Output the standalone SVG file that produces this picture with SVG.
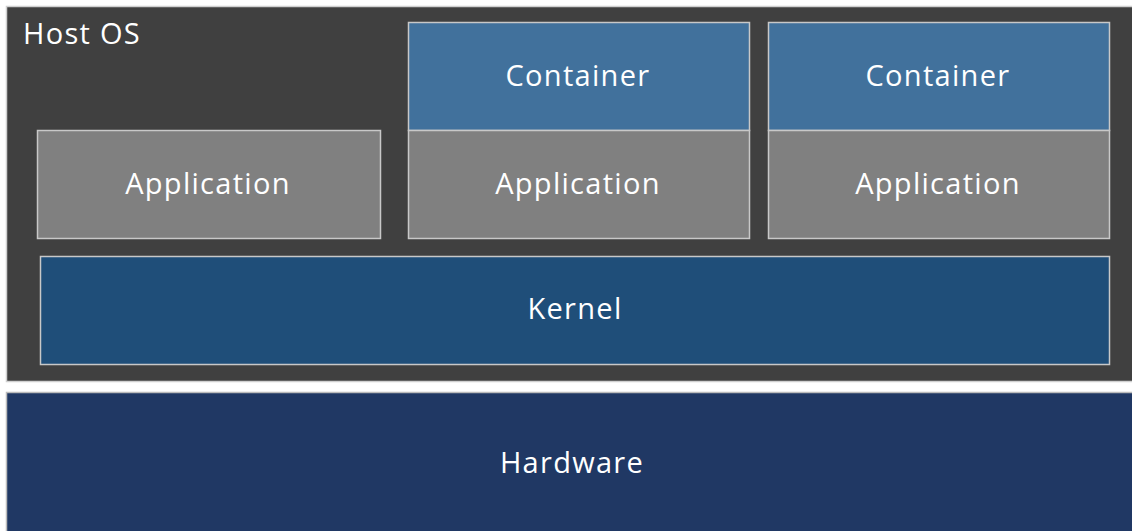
<svg xmlns="http://www.w3.org/2000/svg" width="1132" height="531" viewBox="0 0 1132 531">
<style>
.lbl{font-family:"Open Sans","Noto Sans",sans-serif;font-size:29px;letter-spacing:1.3px;fill:#ffffff;text-anchor:middle}
.box{stroke:#c8c8c8;stroke-width:1.5}
.app{fill:#808080}
.cont{fill:#41719c}
</style>
<rect width="1132" height="531" fill="#ffffff"/>
<g id="hostos">
<rect x="6.5" y="6.5" width="1130" height="375" fill="#404040" stroke="#d0d0d0" stroke-width="1.5"/>
<text x="23" y="44" class="lbl" style="text-anchor:start">Host OS</text>
</g>
<g id="app1">
<rect class="box app" x="37.5" y="130.5" width="343" height="108"/>
<text x="208" y="194" class="lbl">Application</text>
</g>
<g id="container1">
<rect class="box cont" x="408.5" y="22.5" width="341" height="108"/>
<text x="578" y="86" class="lbl">Container</text>
</g>
<g id="app2">
<rect class="box app" x="408.5" y="130.5" width="341" height="108"/>
<text x="578" y="194" class="lbl">Application</text>
</g>
<g id="container2">
<rect class="box cont" x="768.5" y="22.5" width="341" height="108"/>
<text x="938" y="86" class="lbl">Container</text>
</g>
<g id="app3">
<rect class="box app" x="768.5" y="130.5" width="341" height="108"/>
<text x="938" y="194" class="lbl">Application</text>
</g>
<g id="kernel">
<rect class="box" fill="#1f4e79" x="40.5" y="256.5" width="1069" height="108"/>
<text x="575" y="319" class="lbl">Kernel</text>
</g>
<g id="hardware">
<rect x="6.5" y="392.5" width="1130" height="145" fill="#203864" stroke="#bcbcbc" stroke-width="1.5"/>
<text x="572" y="473" class="lbl">Hardware</text>
</g>
<g id="connectors"/>
</svg>
